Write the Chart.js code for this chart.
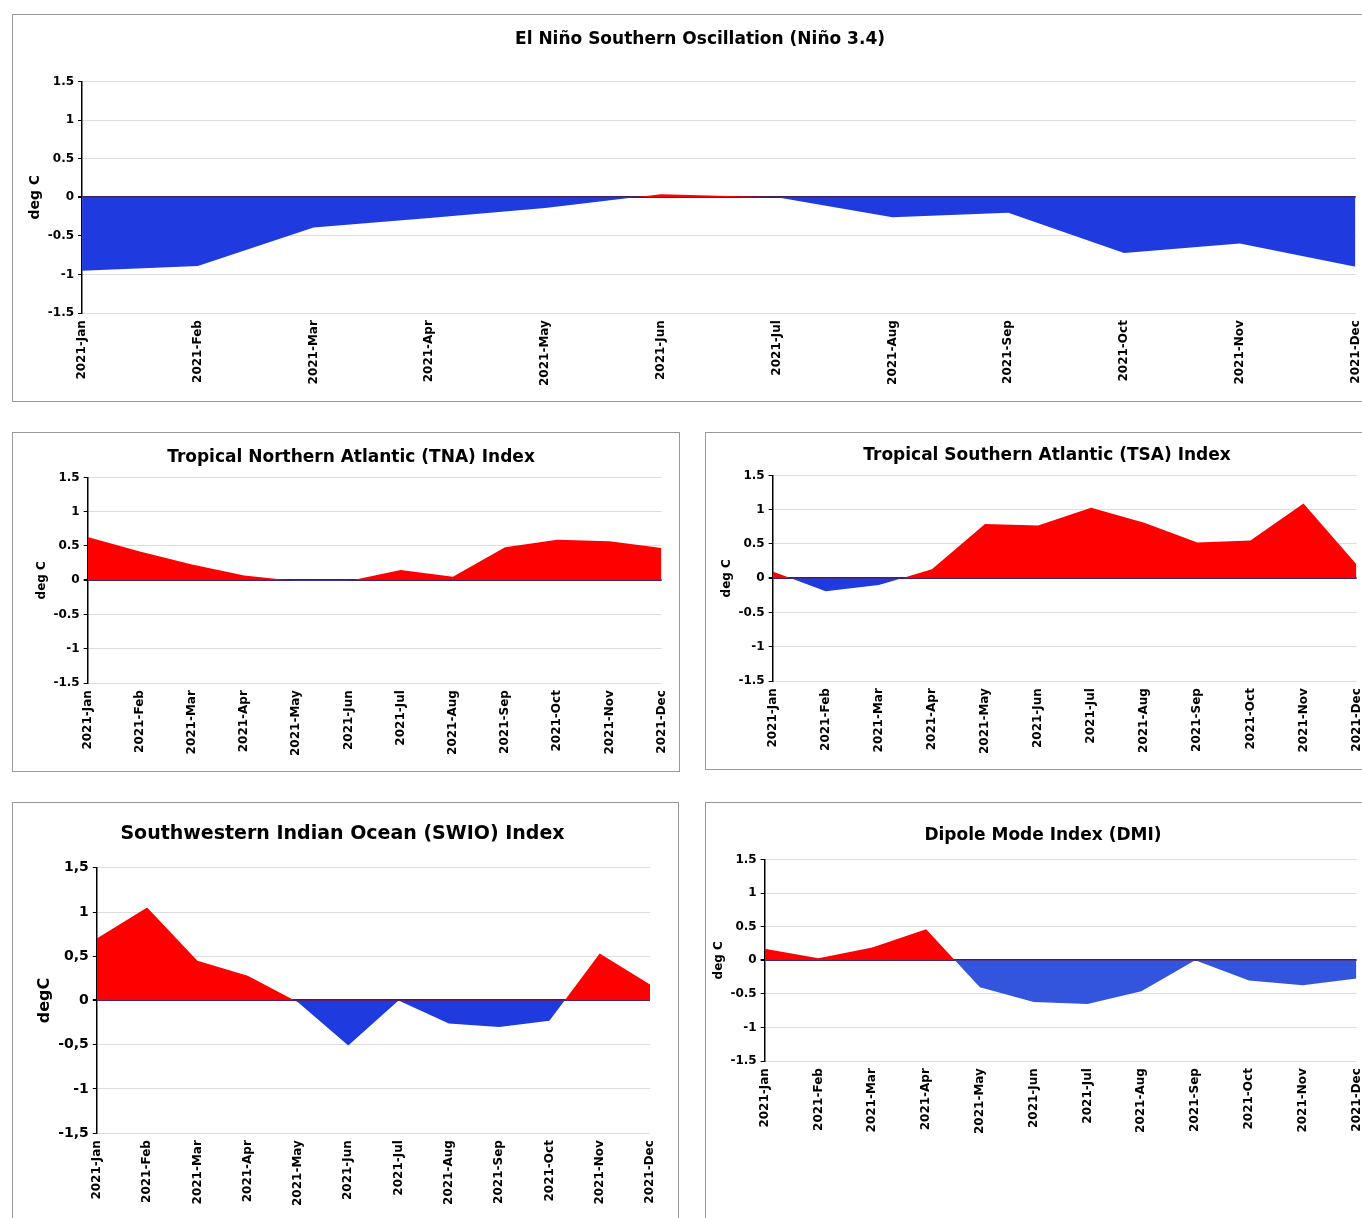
<!DOCTYPE html>
<html><head><meta charset="utf-8">
<script src="https://cdn.jsdelivr.net/npm/chart.js@4/dist/chart.umd.min.js"></script>
<style>
body{margin:0;background:#fff;width:1362px;height:1218px;position:relative;overflow:hidden;font-family:"DejaVu Sans",Verdana,sans-serif}
.box{position:absolute;border:1px solid #999;box-sizing:border-box;background:#fff}
.box canvas{position:absolute;left:0;top:0}
</style></head><body>
<div class="box" style="left:12px;top:14px;width:1362px;height:388px"><canvas id="enso"></canvas></div>
<div class="box" style="left:12px;top:432px;width:668px;height:340px"><canvas id="tna"></canvas></div>
<div class="box" style="left:705px;top:432px;width:670px;height:338px"><canvas id="tsa"></canvas></div>
<div class="box" style="left:12px;top:802px;width:667px;height:430px"><canvas id="swio"></canvas></div>
<div class="box" style="left:705px;top:802px;width:670px;height:430px"><canvas id="dmi"></canvas></div>
<script>
const months = ['2021-Jan','2021-Feb','2021-Mar','2021-Apr','2021-May','2021-Jun','2021-Jul','2021-Aug','2021-Sep','2021-Oct','2021-Nov','2021-Dec'];
const ensoValues = [-0.95,-0.89,-0.39,-0.27,-0.14,0.04,0.0,-0.26,-0.2,-0.72,-0.6,-0.9];
const tnaValues = [0.63,0.42,0.23,0.07,-0.01,-0.01,0.15,0.05,0.48,0.59,0.57,0.47];
const tsaValues = [0.1,-0.19,-0.1,0.13,0.79,0.77,1.03,0.81,0.52,0.55,1.09,0.2];
const swioValues = [0.7,1.05,0.45,0.28,-0.02,-0.51,0.0,-0.26,-0.3,-0.23,0.53,0.18];
const dmiValues = [0.17,0.03,0.19,0.46,-0.4,-0.62,-0.65,-0.46,0.0,-0.3,-0.37,-0.27];
const yTicks = [-1.5,-1,-0.5,0,0.5,1,1.5];

function makeChart(id, title, values, opt) {
  const canvas = document.getElementById(id);
  const box = canvas.parentElement;
  canvas.style.width = box.clientWidth + 'px';
  canvas.style.height = box.clientHeight + 'px';
  const fmt = (v) => opt.comma ? String(v).replace('.', ',') : String(v);
  return new Chart(canvas, {
    type: 'line',
    data: {
      labels: months,
      datasets: [{
        data: values,
        borderWidth: 0,
        pointRadius: 0,
        tension: 0,
        fill: { target: 'origin', above: '#ff0000', below: opt.blue || '#1f3be0' },
      }],
    },
    options: {
      responsive: true,
      maintainAspectRatio: false,
      animation: false,
      layout: { padding: opt.pad },
      plugins: {
        legend: { display: false },
        tooltip: { enabled: false },
        title: { display: true, text: title, color: '#000', font: { family: 'DejaVu Sans', weight: 'bold', size: opt.titleSize || 15 }, padding: { top: 4, bottom: opt.titleGap || 14 } },
      },
      scales: {
        x: {
          offset: false,
          grid: { display: false, drawTicks: true, tickLength: 4, tickColor: '#000' },
          border: { display: false },
          ticks: { color: '#000', maxRotation: 90, minRotation: 90, autoSkip: false, font: { family: 'DejaVu Sans', weight: 'bold', size: 12 } },
        },
        y: {
          min: -1.5, max: 1.5,
          afterBuildTicks: (ax) => { ax.ticks = yTicks.map((v) => ({ value: v })); },
          grid: {
            color: (c) => c.tick && c.tick.value === 0 ? '#40205a' : '#dddddd',
            lineWidth: (c) => c.tick && c.tick.value === 0 ? 2 : 1,
            tickLength: 4, tickColor: '#000',
          },
          border: { color: '#000', width: 1.5 },
          title: { display: true, text: opt.ylabel || 'deg C', color: '#000', font: { family: 'DejaVu Sans', weight: 'bold', size: opt.ylabelSize || 12 }, padding: 0 },
          ticks: { color: '#000', padding: 4, callback: (v) => fmt(v), font: { family: 'DejaVu Sans', weight: 'bold', size: opt.tickSize || 12 } },
        },
      },
    },
  });
}

makeChart('enso', 'El Niño Southern Oscillation (Niño 3.4)', ensoValues, { pad: { left: 14, right: 0, top: 10, bottom: 12 }, titleSize: 17, titleGap: 32, ylabelSize: 14 });
makeChart('tna', 'Tropical Northern Atlantic (TNA) Index', tnaValues, { pad: { left: 22, right: 12, top: 10, bottom: 12 }, titleSize: 17, titleGap: 10 });
makeChart('tsa', 'Tropical Southern Atlantic (TSA) Index', tsaValues, { pad: { left: 14, right: 0, top: 8, bottom: 12 }, titleSize: 17, titleGap: 10 });
makeChart('swio', 'Southwestern Indian Ocean (SWIO) Index', swioValues, { pad: { left: 22, right: 28, top: 16, bottom: 22 }, titleSize: 19, titleGap: 22, comma: true, ylabel: 'degC', ylabelSize: 16, tickSize: 14 });
makeChart('dmi', 'Dipole Mode Index (DMI)', dmiValues, { pad: { left: 6, right: 0, top: 18, bottom: 94 }, titleSize: 17, titleGap: 14, blue: '#3355dd' });
</script>
</body></html>
